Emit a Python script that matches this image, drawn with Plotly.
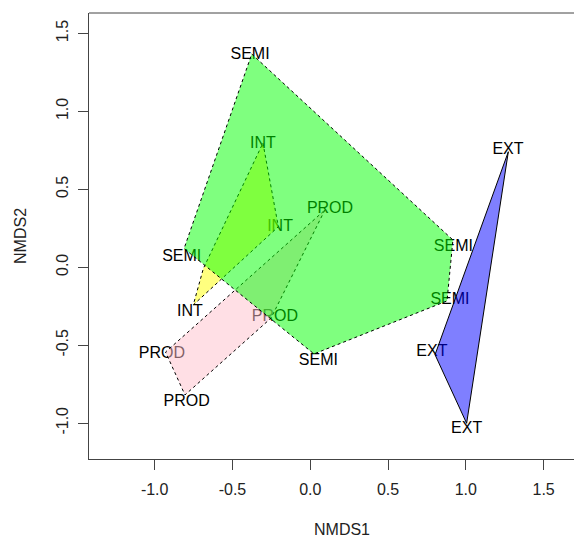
import plotly.graph_objects as go

# ---- data (NMDS site scores) ----
groups = ["EXT", "INT", "PROD", "SEMI"]

# hull vertices per group
ext_x = [1.273, 0.802, 1.005]
ext_y = [0.741, -0.561, -1.001]
int_x = [-0.304, -0.205, -0.752, -0.687]
int_y = [0.797, 0.260, -0.242, -0.008]
prod_x = [0.094, -0.252, -0.805, -0.930]
prod_y = [0.367, -0.326, -0.819, -0.544]
semi_x = [-0.376, 0.917, 0.879, 0.024, -0.811]
semi_y = [1.368, 0.175, -0.216, -0.556, 0.120]

# site labels
lab_text = ["SEMI", "SEMI", "SEMI", "SEMI", "SEMI",
            "INT", "INT", "INT",
            "PROD", "PROD", "PROD", "PROD",
            "EXT", "EXT", "EXT"]
lab_x = [-0.387, -0.826, 0.052, 0.920, 0.898,
         -0.304, -0.194, -0.773,
         0.127, -0.227, -0.953, -0.794,
         1.271, 0.782, 1.005]
lab_y = [1.361, 0.066, -0.603, 0.130, -0.212,
         0.790, 0.258, -0.287,
         0.371, -0.319, -0.556, -0.865,
         0.754, -0.545, -1.036]

x_ticks = [-1.0, -0.5, 0.0, 0.5, 1.0, 1.5]
y_ticks = [-1.0, -0.5, 0.0, 0.5, 1.0, 1.5]
x_ticktext = ["-1.0", "-0.5", "0.0", "0.5", "1.0", "1.5"]
y_ticktext = ["-1.0", "-0.5", "0.0", "0.5", "1.0", "1.5"]

FONT = "Liberation Sans, Arial, sans-serif"

fig = go.Figure()

# labels first (polygons are drawn over them, semi-transparent)
fig.add_trace(go.Scatter(
    x=lab_x, y=lab_y, text=lab_text, mode="text",
    textposition="middle center",
    textfont=dict(family=FONT, size=16, color="black"),
    hoverinfo="skip", showlegend=False))

hulls = [
    (ext_x, ext_y, "rgba(0,0,255,0.5)", "solid"),
    (int_x, int_y, "rgba(255,255,0,0.5)", "3px,3px"),
    (prod_x, prod_y, "rgba(255,192,203,0.5)", "3px,3px"),
    (semi_x, semi_y, "rgba(0,255,0,0.5)", "3px,3px"),
]
for hx, hy, col, dash in hulls:
    fig.add_trace(go.Scatter(
        x=hx + [hx[0]], y=hy + [hy[0]], mode="lines", fill="toself",
        fillcolor=col, line=dict(color="black", width=1, dash=dash),
        hoverinfo="skip", showlegend=False))

axis_common = dict(showgrid=False, zeroline=False, showline=True,
                   linecolor="#444", linewidth=1, ticks="outside",
                   ticklen=10, tickcolor="#444", tickwidth=1,
                   tickfont=dict(family=FONT, size=16, color="#222"))

fig.update_xaxes(range=[-1.422, 1.7465], tickvals=x_ticks,
                 ticktext=x_ticktext, ticklabelstandoff=6, **axis_common)
fig.update_yaxes(range=[-1.230, 1.631], tickvals=y_ticks,
                 ticktext=y_ticktext, tickangle=-90, ticklabelstandoff=4,
                 **axis_common)

fig.add_shape(type="line", xref="paper", yref="paper", x0=0, x1=1,
              y0=1, y1=1, line=dict(color="#444", width=1))

fig.add_annotation(text="NMDS1", xref="paper", yref="paper",
                   x=0.5126, y=-0.1576, showarrow=False,
                   xanchor="center", yanchor="middle",
                   font=dict(family=FONT, size=16, color="#222"))
fig.add_annotation(text="NMDS2", xref="paper", yref="paper",
                   x=-0.140, y=0.5, showarrow=False, textangle=-90,
                   xanchor="center", yanchor="middle",
                   font=dict(family=FONT, size=16, color="#222"))

# the page body has an 8px default margin, so the figure is sized to fit
fig.update_layout(width=574, height=533,
                  margin=dict(l=81, r=0, t=5, b=82),
                  plot_bgcolor="white", paper_bgcolor="white",
                  showlegend=False)

fig.write_html("out.html")
